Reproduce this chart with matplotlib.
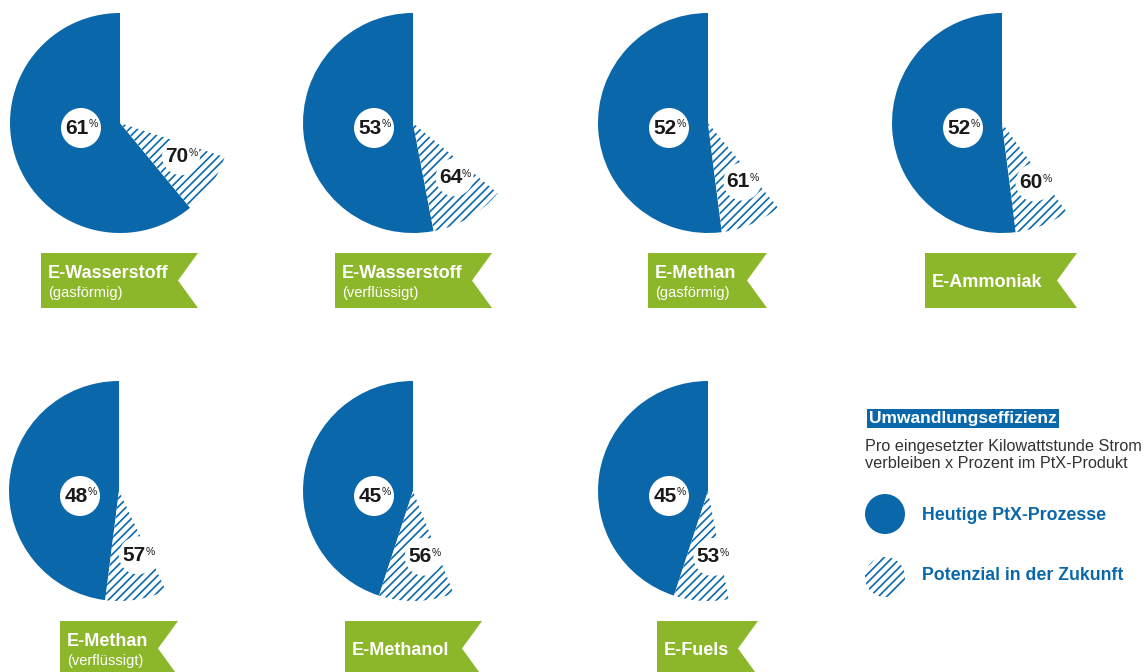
"""
Umwandlungseffizienz von PtX-Produkten: heute vs. Potenzial in der Zukunft.
Each product is one pie: solid wedge = today's efficiency, hatched wedge =
the extra share reachable in future, both starting at 12 o'clock.
"""

import matplotlib

matplotlib.use("Agg")
import matplotlib.pyplot as plt
import numpy as np
from matplotlib.patches import Circle, Polygon

plt.rcParams["font.family"] = ["Liberation Sans", "DejaVu Sans"]
plt.rcParams["hatch.linewidth"] = 1.2

BLUE = "#0A68AA"
GREEN = "#8DB72B"
INK = "#1a1a1a"

# --- data -------------------------------------------------------------------
PRODUCTS = ["E-Wasserstoff", "E-Wasserstoff", "E-Methan", "E-Ammoniak",
            "E-Methan", "E-Methanol", "E-Fuels"]
STATES = ["(gasförmig)", "(verflüssigt)", "(gasförmig)", "",
          "(verflüssigt)", "", ""]
TODAY = [61, 53, 52, 52, 48, 45, 45]
FUTURE = [70, 64, 61, 60, 57, 56, 53]

LEGEND_TITLE = "Umwandlungseffizienz"
LEGEND_TEXT = ["Pro eingesetzter Kilowattstunde Strom",
               "verbleiben x Prozent im PtX-Produkt"]
LEGEND_ITEMS = ["Heutige PtX-Prozesse", "Potenzial in der Zukunft"]

# --- layout (pixels, measured from the top-left corner) ---------------------
W, H = 1145, 672
R = 110
CENTERS = [(120, 123), (413, 123), (708, 123), (1002, 123),
           (119, 491), (413, 491), (708, 491)]
BANNER_LEFT = [41, 335, 648, 925, 60, 345, 657]
BANNER_WIDTH = [157, 157, 119, 152, 118, 137, 101]
BANNER_TOP = [253, 253, 253, 253, 621, 621, 621]
BANNER_H = 55
NOTCH = 20
HATCH = "////"


def fy(y):
    """pixel-from-top -> data y (y axis points up)"""
    return H - y


def pct_label(ax, x, y, value, r_bg):
    ax.add_patch(Circle((x, y), r_bg, facecolor="white", edgecolor="none", zorder=4))
    txt = ax.text(x - 4, y, str(value), fontsize=15, fontweight="bold",
                  color=INK, ha="center", va="center", zorder=5)
    ax.annotate("%", xy=(1, 0.95), xycoords=txt, xytext=(0, 0),
                textcoords="offset points", ha="left", va="top",
                fontsize=7.5, color=INK, zorder=5)


def banner(ax, left, top, width, name, state):
    x0, x1 = left, left + width
    y0, y1 = fy(top), fy(top + BANNER_H)
    ym = (y0 + y1) / 2
    ax.add_patch(Polygon([(x0, y0), (x1, y0), (x1 - NOTCH, ym), (x1, y1), (x0, y1)],
                         closed=True, facecolor=GREEN, edgecolor="none", zorder=3))
    if state:
        ax.text(x0 + 7, y0 - 21, name, fontsize=13, fontweight="bold",
                color="white", ha="left", va="center", zorder=4)
        ax.text(x0 + 7, y0 - 40, state, fontsize=10.5, color="white",
                ha="left", va="center", zorder=4)
    else:
        ax.text(x0 + 7, ym - 2, name, fontsize=13, fontweight="bold",
                color="white", ha="left", va="center", zorder=4)


def main():
    fig = plt.figure(figsize=(W / 100, H / 100), dpi=100)
    ax = fig.add_axes([0, 0, 1, 1])

    for i, (today, future) in enumerate(zip(TODAY, FUTURE)):
        cx, cy = CENTERS[i][0], fy(CENTERS[i][1])
        ax.pie([today, future - today, 100 - future], center=(cx, cy), radius=R,
               startangle=90, counterclock=True,
               colors=[BLUE, "white", "none"], hatch=["", HATCH, ""],
               wedgeprops=dict(linewidth=0, edgecolor=BLUE))

        # today's value inside the solid wedge
        pct_label(ax, cx - 39, cy - 5, today, 20)

        # future value on the hatched wedge (along its bisector)
        a0 = 90 + 3.6 * today
        a1 = 90 + 3.6 * future
        mid = np.deg2rad((a0 + a1) / 2 + 4)
        pct_label(ax, cx + 0.6 * R * np.cos(mid) + 4, cy + 0.6 * R * np.sin(mid),
                  future, 19)

        banner(ax, BANNER_LEFT[i], BANNER_TOP[i], BANNER_WIDTH[i],
               PRODUCTS[i], STATES[i])

    # legend block
    ax.text(869, fy(418.5), LEGEND_TITLE, fontsize=12.5, fontweight="bold",
            color="white", ha="left", va="center",
            bbox=dict(boxstyle="square,pad=0.12", facecolor=BLUE, edgecolor="none"))
    ax.text(865, fy(446), LEGEND_TEXT[0], fontsize=11.7, color="#333333",
            ha="left", va="center")
    ax.text(865, fy(464), LEGEND_TEXT[1], fontsize=11.7, color="#333333",
            ha="left", va="center")

    ax.add_patch(Circle((885, fy(514)), 20, facecolor=BLUE, edgecolor="none"))
    ax.add_patch(Circle((885, fy(577)), 20, facecolor="white", edgecolor=BLUE,
                        linewidth=0, hatch=HATCH))
    ax.text(922, fy(515), LEGEND_ITEMS[0], fontsize=12.8, fontweight="bold",
            color=BLUE, ha="left", va="center")
    ax.text(922, fy(576), LEGEND_ITEMS[1], fontsize=12.8, fontweight="bold",
            color=BLUE, ha="left", va="center")

    ax.set_xlim(0, W)
    ax.set_ylim(0, H)
    ax.set_aspect("auto")
    ax.axis("off")

    fig.savefig("out.png", dpi=100)


if __name__ == "__main__":
    main()
